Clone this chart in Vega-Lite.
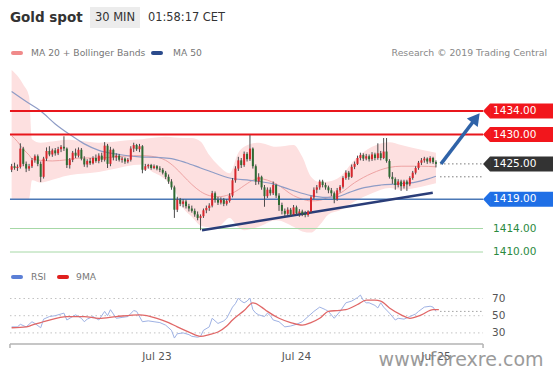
{
"$schema":"https://vega.github.io/schema/vega-lite/v6.json",
"width":553,"height":344,
"autosize":{"type":"none"},
"padding":{"left":0,"right":0,"top":0,"bottom":31},
"background":"white",
"config":{"font":"DejaVu Sans","view":{"stroke":null},"axis":{"grid":false}},
"datasets":{
"candles":[
{"t":"2019-07-21T23:00","o":1424.0,"h":1425.0,"l":1423.6,"c":1424.6},
{"t":"2019-07-21T23:30","o":1424.6,"h":1425.2,"l":1424.0,"c":1424.3},
{"t":"2019-07-22T00:00","o":1424.3,"h":1424.9,"l":1423.8,"c":1424.5},
{"t":"2019-07-22T00:30","o":1424.5,"h":1428.5,"l":1424.2,"c":1427.6},
{"t":"2019-07-22T01:00","o":1427.6,"h":1427.9,"l":1424.6,"c":1425.0},
{"t":"2019-07-22T01:30","o":1425.0,"h":1425.4,"l":1423.6,"c":1424.2},
{"t":"2019-07-22T02:00","o":1424.2,"h":1425.0,"l":1423.8,"c":1424.6},
{"t":"2019-07-22T02:30","o":1424.6,"h":1426.0,"l":1424.3,"c":1425.6},
{"t":"2019-07-22T03:00","o":1425.6,"h":1426.6,"l":1425.2,"c":1426.3},
{"t":"2019-07-22T03:30","o":1426.3,"h":1426.6,"l":1424.6,"c":1425.0},
{"t":"2019-07-22T04:00","o":1425.0,"h":1425.4,"l":1421.9,"c":1422.8},
{"t":"2019-07-22T04:30","o":1422.8,"h":1426.2,"l":1422.5,"c":1425.9},
{"t":"2019-07-22T05:00","o":1425.9,"h":1427.8,"l":1425.5,"c":1427.2},
{"t":"2019-07-22T05:30","o":1427.2,"h":1428.0,"l":1426.3,"c":1426.6},
{"t":"2019-07-22T06:00","o":1426.6,"h":1427.6,"l":1426.2,"c":1427.3},
{"t":"2019-07-22T06:30","o":1427.3,"h":1427.7,"l":1426.4,"c":1426.8},
{"t":"2019-07-22T07:00","o":1426.8,"h":1427.9,"l":1426.5,"c":1427.5},
{"t":"2019-07-22T07:30","o":1427.5,"h":1428.2,"l":1427.0,"c":1427.9},
{"t":"2019-07-22T08:00","o":1427.9,"h":1429.7,"l":1427.2,"c":1427.6},
{"t":"2019-07-22T08:30","o":1427.6,"h":1427.8,"l":1424.3,"c":1424.8},
{"t":"2019-07-22T09:00","o":1424.8,"h":1426.0,"l":1424.2,"c":1425.7},
{"t":"2019-07-22T09:30","o":1425.7,"h":1427.2,"l":1425.3,"c":1426.9},
{"t":"2019-07-22T10:00","o":1426.9,"h":1427.6,"l":1426.0,"c":1426.4},
{"t":"2019-07-22T10:30","o":1426.4,"h":1427.8,"l":1426.1,"c":1427.4},
{"t":"2019-07-22T11:00","o":1427.4,"h":1427.7,"l":1425.6,"c":1425.9},
{"t":"2019-07-22T11:30","o":1425.9,"h":1426.3,"l":1424.5,"c":1424.9},
{"t":"2019-07-22T12:00","o":1424.9,"h":1425.8,"l":1424.4,"c":1425.5},
{"t":"2019-07-22T12:30","o":1425.5,"h":1426.0,"l":1424.8,"c":1425.1},
{"t":"2019-07-22T13:00","o":1425.1,"h":1426.3,"l":1424.9,"c":1426.0},
{"t":"2019-07-22T13:30","o":1426.0,"h":1426.6,"l":1425.2,"c":1425.5},
{"t":"2019-07-22T14:00","o":1425.5,"h":1426.8,"l":1425.1,"c":1426.4},
{"t":"2019-07-22T14:30","o":1426.4,"h":1426.9,"l":1425.3,"c":1425.7},
{"t":"2019-07-22T15:00","o":1425.7,"h":1428.7,"l":1425.4,"c":1428.1},
{"t":"2019-07-22T15:30","o":1428.1,"h":1428.4,"l":1424.3,"c":1425.0},
{"t":"2019-07-22T16:00","o":1425.0,"h":1427.9,"l":1424.6,"c":1427.4},
{"t":"2019-07-22T16:30","o":1427.4,"h":1427.6,"l":1425.6,"c":1426.1},
{"t":"2019-07-22T17:00","o":1426.1,"h":1426.8,"l":1425.5,"c":1426.4},
{"t":"2019-07-22T17:30","o":1426.4,"h":1426.7,"l":1425.4,"c":1425.7},
{"t":"2019-07-22T18:00","o":1425.7,"h":1426.2,"l":1425.2,"c":1425.9},
{"t":"2019-07-22T18:30","o":1425.9,"h":1426.1,"l":1425.0,"c":1425.4},
{"t":"2019-07-22T19:00","o":1425.4,"h":1426.0,"l":1425.1,"c":1425.7},
{"t":"2019-07-22T19:30","o":1425.7,"h":1428.0,"l":1425.4,"c":1427.6},
{"t":"2019-07-22T20:00","o":1427.6,"h":1428.6,"l":1427.0,"c":1428.2},
{"t":"2019-07-22T20:30","o":1428.2,"h":1428.4,"l":1427.2,"c":1427.5},
{"t":"2019-07-22T21:00","o":1427.5,"h":1428.4,"l":1427.0,"c":1428.0},
{"t":"2019-07-22T21:30","o":1428.0,"h":1428.2,"l":1423.4,"c":1424.0},
{"t":"2019-07-22T22:00","o":1424.0,"h":1425.0,"l":1423.8,"c":1424.6},
{"t":"2019-07-22T22:30","o":1424.6,"h":1425.0,"l":1424.2,"c":1424.8},
{"t":"2019-07-22T23:00","o":1424.8,"h":1425.0,"l":1424.0,"c":1424.3},
{"t":"2019-07-22T23:30","o":1424.3,"h":1424.9,"l":1424.1,"c":1424.6},
{"t":"2019-07-23T00:00","o":1424.6,"h":1424.8,"l":1423.9,"c":1424.2},
{"t":"2019-07-23T00:30","o":1424.2,"h":1424.6,"l":1423.6,"c":1424.0},
{"t":"2019-07-23T01:00","o":1424.0,"h":1424.3,"l":1423.2,"c":1423.5},
{"t":"2019-07-23T01:30","o":1423.5,"h":1423.8,"l":1422.4,"c":1422.8},
{"t":"2019-07-23T02:00","o":1422.8,"h":1423.2,"l":1421.6,"c":1422.0},
{"t":"2019-07-23T02:30","o":1422.0,"h":1422.4,"l":1420.6,"c":1421.0},
{"t":"2019-07-23T03:00","o":1421.0,"h":1421.3,"l":1415.8,"c":1417.2},
{"t":"2019-07-23T03:30","o":1417.2,"h":1419.4,"l":1416.8,"c":1418.9},
{"t":"2019-07-23T04:00","o":1418.9,"h":1419.2,"l":1417.8,"c":1418.2},
{"t":"2019-07-23T04:30","o":1418.2,"h":1419.0,"l":1417.6,"c":1418.6},
{"t":"2019-07-23T05:00","o":1418.6,"h":1418.9,"l":1417.4,"c":1417.8},
{"t":"2019-07-23T05:30","o":1417.8,"h":1418.2,"l":1416.9,"c":1417.4},
{"t":"2019-07-23T06:00","o":1417.4,"h":1417.9,"l":1416.7,"c":1417.0},
{"t":"2019-07-23T06:30","o":1417.0,"h":1417.4,"l":1416.0,"c":1416.4},
{"t":"2019-07-23T07:00","o":1416.4,"h":1416.9,"l":1415.4,"c":1415.8},
{"t":"2019-07-23T07:30","o":1415.8,"h":1416.4,"l":1413.7,"c":1416.1},
{"t":"2019-07-23T08:00","o":1416.1,"h":1417.4,"l":1415.8,"c":1417.1},
{"t":"2019-07-23T08:30","o":1417.1,"h":1417.9,"l":1416.6,"c":1417.5},
{"t":"2019-07-23T09:00","o":1417.5,"h":1418.3,"l":1417.0,"c":1417.9},
{"t":"2019-07-23T09:30","o":1417.9,"h":1420.4,"l":1417.6,"c":1420.0},
{"t":"2019-07-23T10:00","o":1420.0,"h":1420.3,"l":1418.4,"c":1418.9},
{"t":"2019-07-23T10:30","o":1418.9,"h":1419.4,"l":1418.0,"c":1418.4},
{"t":"2019-07-23T11:00","o":1418.4,"h":1419.3,"l":1418.1,"c":1418.9},
{"t":"2019-07-23T11:30","o":1418.9,"h":1419.2,"l":1417.8,"c":1418.2},
{"t":"2019-07-23T12:00","o":1418.2,"h":1419.0,"l":1417.9,"c":1418.7},
{"t":"2019-07-23T12:30","o":1418.7,"h":1420.0,"l":1418.4,"c":1419.6},
{"t":"2019-07-23T13:00","o":1419.6,"h":1422.6,"l":1419.3,"c":1422.2},
{"t":"2019-07-23T13:30","o":1422.2,"h":1424.6,"l":1421.8,"c":1424.2},
{"t":"2019-07-23T14:00","o":1424.2,"h":1426.2,"l":1423.8,"c":1425.6},
{"t":"2019-07-23T14:30","o":1425.6,"h":1426.0,"l":1424.3,"c":1424.8},
{"t":"2019-07-23T15:00","o":1424.8,"h":1427.1,"l":1424.5,"c":1426.7},
{"t":"2019-07-23T15:30","o":1426.7,"h":1427.0,"l":1425.4,"c":1425.8},
{"t":"2019-07-23T16:00","o":1425.8,"h":1429.9,"l":1425.5,"c":1427.6},
{"t":"2019-07-23T16:30","o":1427.6,"h":1427.8,"l":1424.2,"c":1424.6},
{"t":"2019-07-23T17:00","o":1424.6,"h":1424.9,"l":1421.4,"c":1422.0},
{"t":"2019-07-23T17:30","o":1422.0,"h":1423.4,"l":1421.5,"c":1422.8},
{"t":"2019-07-23T18:00","o":1422.8,"h":1423.0,"l":1420.6,"c":1421.0},
{"t":"2019-07-23T18:30","o":1421.0,"h":1421.4,"l":1417.7,"c":1419.5},
{"t":"2019-07-23T19:00","o":1419.5,"h":1421.0,"l":1419.2,"c":1420.6},
{"t":"2019-07-23T19:30","o":1420.6,"h":1421.0,"l":1419.6,"c":1420.0},
{"t":"2019-07-23T20:00","o":1420.0,"h":1422.0,"l":1419.7,"c":1421.4},
{"t":"2019-07-23T20:30","o":1421.4,"h":1421.6,"l":1419.2,"c":1419.6},
{"t":"2019-07-23T21:00","o":1419.6,"h":1420.0,"l":1417.0,"c":1418.0},
{"t":"2019-07-23T21:30","o":1418.0,"h":1418.4,"l":1416.4,"c":1417.0},
{"t":"2019-07-23T22:00","o":1417.0,"h":1417.4,"l":1416.0,"c":1416.5},
{"t":"2019-07-23T22:30","o":1416.5,"h":1417.6,"l":1416.2,"c":1417.2},
{"t":"2019-07-23T23:00","o":1417.2,"h":1417.5,"l":1416.0,"c":1416.4},
{"t":"2019-07-23T23:30","o":1416.4,"h":1418.0,"l":1416.2,"c":1417.6},
{"t":"2019-07-24T00:00","o":1417.6,"h":1417.9,"l":1416.3,"c":1416.6},
{"t":"2019-07-24T00:30","o":1416.6,"h":1417.3,"l":1416.0,"c":1416.9},
{"t":"2019-07-24T01:00","o":1416.9,"h":1417.2,"l":1416.1,"c":1416.5},
{"t":"2019-07-24T01:30","o":1416.5,"h":1417.0,"l":1415.9,"c":1416.3},
{"t":"2019-07-24T02:00","o":1416.3,"h":1417.1,"l":1416.0,"c":1416.9},
{"t":"2019-07-24T02:30","o":1416.9,"h":1419.6,"l":1416.6,"c":1419.3},
{"t":"2019-07-24T03:00","o":1419.3,"h":1421.0,"l":1419.0,"c":1420.6},
{"t":"2019-07-24T03:30","o":1420.6,"h":1421.4,"l":1420.0,"c":1421.0},
{"t":"2019-07-24T04:00","o":1421.0,"h":1422.3,"l":1420.6,"c":1422.0},
{"t":"2019-07-24T04:30","o":1422.0,"h":1422.3,"l":1421.0,"c":1421.4},
{"t":"2019-07-24T05:00","o":1421.4,"h":1421.8,"l":1420.6,"c":1421.0},
{"t":"2019-07-24T05:30","o":1421.0,"h":1421.3,"l":1420.0,"c":1420.5},
{"t":"2019-07-24T06:00","o":1420.5,"h":1420.9,"l":1419.5,"c":1420.0},
{"t":"2019-07-24T06:30","o":1420.0,"h":1420.3,"l":1418.3,"c":1419.0},
{"t":"2019-07-24T07:00","o":1419.0,"h":1420.9,"l":1418.7,"c":1420.5},
{"t":"2019-07-24T07:30","o":1420.5,"h":1421.4,"l":1420.1,"c":1421.1},
{"t":"2019-07-24T08:00","o":1421.1,"h":1422.9,"l":1420.8,"c":1422.6},
{"t":"2019-07-24T08:30","o":1422.6,"h":1423.9,"l":1422.3,"c":1423.5},
{"t":"2019-07-24T09:00","o":1423.5,"h":1423.8,"l":1422.3,"c":1422.8},
{"t":"2019-07-24T09:30","o":1422.8,"h":1424.9,"l":1422.6,"c":1424.5},
{"t":"2019-07-24T10:00","o":1424.5,"h":1425.4,"l":1424.1,"c":1425.0},
{"t":"2019-07-24T10:30","o":1425.0,"h":1426.4,"l":1424.8,"c":1426.0},
{"t":"2019-07-24T11:00","o":1426.0,"h":1426.9,"l":1425.6,"c":1426.5},
{"t":"2019-07-24T11:30","o":1426.5,"h":1426.8,"l":1425.5,"c":1425.9},
{"t":"2019-07-24T12:00","o":1425.9,"h":1426.7,"l":1425.6,"c":1426.3},
{"t":"2019-07-24T12:30","o":1426.3,"h":1426.6,"l":1425.4,"c":1425.8},
{"t":"2019-07-24T13:00","o":1425.8,"h":1427.0,"l":1425.5,"c":1426.6},
{"t":"2019-07-24T13:30","o":1426.6,"h":1426.9,"l":1425.6,"c":1426.0},
{"t":"2019-07-24T14:00","o":1426.0,"h":1428.5,"l":1425.7,"c":1426.8},
{"t":"2019-07-24T14:30","o":1426.8,"h":1427.2,"l":1425.6,"c":1426.0},
{"t":"2019-07-24T15:00","o":1426.0,"h":1429.4,"l":1425.8,"c":1427.1},
{"t":"2019-07-24T15:30","o":1427.1,"h":1429.4,"l":1425.2,"c":1425.5},
{"t":"2019-07-24T16:00","o":1425.5,"h":1425.8,"l":1422.5,"c":1422.8},
{"t":"2019-07-24T16:30","o":1422.8,"h":1423.6,"l":1421.6,"c":1422.4},
{"t":"2019-07-24T17:00","o":1422.4,"h":1422.7,"l":1420.6,"c":1421.4},
{"t":"2019-07-24T17:30","o":1421.4,"h":1422.4,"l":1421.0,"c":1422.0},
{"t":"2019-07-24T18:00","o":1422.0,"h":1422.3,"l":1420.4,"c":1421.2},
{"t":"2019-07-24T18:30","o":1421.2,"h":1422.3,"l":1420.8,"c":1422.0},
{"t":"2019-07-24T19:00","o":1422.0,"h":1422.3,"l":1420.4,"c":1421.5},
{"t":"2019-07-24T19:30","o":1421.5,"h":1422.9,"l":1421.2,"c":1422.6},
{"t":"2019-07-24T20:00","o":1422.6,"h":1423.8,"l":1422.3,"c":1423.5},
{"t":"2019-07-24T20:30","o":1423.5,"h":1424.6,"l":1423.2,"c":1424.3},
{"t":"2019-07-24T21:00","o":1424.3,"h":1425.5,"l":1424.0,"c":1425.2},
{"t":"2019-07-24T21:30","o":1425.2,"h":1426.0,"l":1424.8,"c":1425.6},
{"t":"2019-07-24T22:00","o":1425.6,"h":1426.2,"l":1425.2,"c":1425.9},
{"t":"2019-07-24T22:30","o":1425.9,"h":1426.1,"l":1425.0,"c":1425.4},
{"t":"2019-07-24T23:00","o":1425.4,"h":1426.3,"l":1425.1,"c":1426.0},
{"t":"2019-07-24T23:30","o":1426.0,"h":1426.2,"l":1425.0,"c":1425.3},
{"t":"2019-07-25T00:00","o":1425.3,"h":1425.6,"l":1424.4,"c":1425.0}
],
"bands":[
{"t":"2019-07-21T23:00","up":1441.0,"lo":1419.0,"m20":1429.8},
{"t":"2019-07-22T00:00","up":1440.0,"lo":1419.0,"m20":1428.8},
{"t":"2019-07-22T01:00","up":1438.5,"lo":1419.0,"m20":1427.5},
{"t":"2019-07-22T02:00","up":1436.5,"lo":1419.0,"m20":1426.5},
{"t":"2019-07-22T02:30","up":1429.2,"lo":1422.2,"m20":1425.9},
{"t":"2019-07-22T04:00","up":1428.6,"lo":1421.8,"m20":1425.6},
{"t":"2019-07-22T06:00","up":1428.8,"lo":1422.3,"m20":1425.5},
{"t":"2019-07-22T08:30","up":1429.1,"lo":1423.0,"m20":1425.7},
{"t":"2019-07-22T11:00","up":1428.9,"lo":1423.3,"m20":1426.0},
{"t":"2019-07-22T14:00","up":1428.6,"lo":1423.6,"m20":1426.0},
{"t":"2019-07-22T17:00","up":1428.8,"lo":1424.2,"m20":1426.2},
{"t":"2019-07-22T20:00","up":1429.1,"lo":1424.8,"m20":1426.4},
{"t":"2019-07-22T21:30","up":1429.2,"lo":1424.9,"m20":1426.4},
{"t":"2019-07-22T23:00","up":1429.4,"lo":1423.8,"m20":1426.3},
{"t":"2019-07-23T01:30","up":1429.6,"lo":1422.3,"m20":1425.6},
{"t":"2019-07-23T03:00","up":1429.5,"lo":1420.5,"m20":1424.5},
{"t":"2019-07-23T04:30","up":1429.4,"lo":1417.5,"m20":1423.0},
{"t":"2019-07-23T06:00","up":1429.4,"lo":1416.0,"m20":1421.5},
{"t":"2019-07-23T07:30","up":1428.8,"lo":1414.5,"m20":1420.3},
{"t":"2019-07-23T09:00","up":1426.5,"lo":1414.2,"m20":1419.6},
{"t":"2019-07-23T10:30","up":1424.8,"lo":1414.3,"m20":1419.4},
{"t":"2019-07-23T12:30","up":1423.4,"lo":1415.8,"m20":1419.8},
{"t":"2019-07-23T14:00","up":1426.9,"lo":1414.2,"m20":1420.6},
{"t":"2019-07-23T15:00","up":1427.9,"lo":1413.7,"m20":1421.3},
{"t":"2019-07-23T17:30","up":1428.6,"lo":1414.3,"m20":1422.5},
{"t":"2019-07-23T20:30","up":1427.9,"lo":1415.4,"m20":1421.6},
{"t":"2019-07-23T23:30","up":1428.2,"lo":1414.3,"m20":1419.6},
{"t":"2019-07-24T01:00","up":1426.2,"lo":1413.5,"m20":1419.0},
{"t":"2019-07-24T02:30","up":1422.8,"lo":1413.3,"m20":1418.7},
{"t":"2019-07-24T04:00","up":1421.9,"lo":1414.6,"m20":1418.8},
{"t":"2019-07-24T05:30","up":1422.0,"lo":1416.4,"m20":1419.3},
{"t":"2019-07-24T07:30","up":1422.8,"lo":1417.1,"m20":1420.0},
{"t":"2019-07-24T10:00","up":1425.7,"lo":1418.6,"m20":1421.8},
{"t":"2019-07-24T13:00","up":1427.9,"lo":1420.0,"m20":1423.4},
{"t":"2019-07-24T16:00","up":1428.7,"lo":1420.9,"m20":1424.4},
{"t":"2019-07-24T18:00","up":1428.2,"lo":1420.6,"m20":1424.6},
{"t":"2019-07-24T21:30","up":1427.4,"lo":1421.1,"m20":1424.6},
{"t":"2019-07-25T00:00","up":1426.9,"lo":1421.7,"m20":1424.5}
],
"ma50":[
{"t":"2019-07-21T23:00","v":1437.3},{"t":"2019-07-22T01:30","v":1435.6},{"t":"2019-07-22T04:00","v":1434.0},
{"t":"2019-07-22T06:30","v":1431.8},{"t":"2019-07-22T09:00","v":1430.0},{"t":"2019-07-22T11:30","v":1428.4},
{"t":"2019-07-22T14:00","v":1427.3},{"t":"2019-07-22T17:30","v":1426.6},{"t":"2019-07-22T21:00","v":1426.2},
{"t":"2019-07-23T00:00","v":1426.1},{"t":"2019-07-23T02:30","v":1425.9},{"t":"2019-07-23T05:00","v":1425.2},
{"t":"2019-07-23T07:30","v":1424.3},{"t":"2019-07-23T10:00","v":1423.4},{"t":"2019-07-23T12:30","v":1422.6},
{"t":"2019-07-23T16:00","v":1422.2},{"t":"2019-07-23T19:30","v":1421.7},{"t":"2019-07-23T23:00","v":1420.6},
{"t":"2019-07-24T02:30","v":1419.6},{"t":"2019-07-24T05:00","v":1419.3},{"t":"2019-07-24T07:00","v":1419.4},
{"t":"2019-07-24T09:00","v":1420.1},{"t":"2019-07-24T11:00","v":1420.8},{"t":"2019-07-24T14:30","v":1421.4},
{"t":"2019-07-24T17:30","v":1421.6},{"t":"2019-07-24T20:30","v":1421.9},{"t":"2019-07-24T22:30","v":1422.4},
{"t":"2019-07-25T00:00","v":1422.9}
],
"rsi":[
{"t":"2019-07-21T23:00","v":37},{"t":"2019-07-22T00:00","v":37},{"t":"2019-07-22T00:30","v":40},{"t":"2019-07-22T01:30","v":37},
{"t":"2019-07-22T02:30","v":43},{"t":"2019-07-22T03:00","v":41},{"t":"2019-07-22T04:00","v":36},{"t":"2019-07-22T04:30","v":46},
{"t":"2019-07-22T05:30","v":49},{"t":"2019-07-22T06:30","v":50},{"t":"2019-07-22T08:00","v":53},{"t":"2019-07-22T08:30","v":45},
{"t":"2019-07-22T09:30","v":49},{"t":"2019-07-22T10:00","v":51},{"t":"2019-07-22T11:00","v":47},{"t":"2019-07-22T11:30","v":43},
{"t":"2019-07-22T12:00","v":46},{"t":"2019-07-22T13:00","v":49},{"t":"2019-07-22T14:00","v":45},{"t":"2019-07-22T15:00","v":55},
{"t":"2019-07-22T15:30","v":50},{"t":"2019-07-22T16:00","v":57},{"t":"2019-07-22T17:00","v":47},{"t":"2019-07-22T18:00","v":48},
{"t":"2019-07-22T19:00","v":49},{"t":"2019-07-22T20:00","v":56},{"t":"2019-07-22T20:30","v":55},{"t":"2019-07-22T21:30","v":43},
{"t":"2019-07-22T22:30","v":44},{"t":"2019-07-22T23:30","v":43},{"t":"2019-07-23T00:30","v":42},{"t":"2019-07-23T01:30","v":39},
{"t":"2019-07-23T02:30","v":33},{"t":"2019-07-23T03:00","v":24},{"t":"2019-07-23T03:30","v":29},{"t":"2019-07-23T04:30","v":30},
{"t":"2019-07-23T05:30","v":28},{"t":"2019-07-23T06:00","v":26},{"t":"2019-07-23T07:00","v":25},{"t":"2019-07-23T07:30","v":26},
{"t":"2019-07-23T08:00","v":33},{"t":"2019-07-23T09:00","v":37},{"t":"2019-07-23T09:30","v":47},{"t":"2019-07-23T10:30","v":41},
{"t":"2019-07-23T11:30","v":44},{"t":"2019-07-23T12:00","v":47},{"t":"2019-07-23T13:00","v":60},{"t":"2019-07-23T13:30","v":64},
{"t":"2019-07-23T14:00","v":70.5},{"t":"2019-07-23T14:30","v":67},{"t":"2019-07-23T15:00","v":65},{"t":"2019-07-23T15:30","v":67},
{"t":"2019-07-23T16:00","v":70.5},{"t":"2019-07-23T16:30","v":57},{"t":"2019-07-23T17:00","v":53},{"t":"2019-07-23T17:30","v":51},
{"t":"2019-07-23T18:30","v":49},{"t":"2019-07-23T19:00","v":53},{"t":"2019-07-23T19:30","v":50},{"t":"2019-07-23T20:00","v":45},
{"t":"2019-07-23T21:00","v":43},{"t":"2019-07-23T22:00","v":37},{"t":"2019-07-23T23:00","v":38},{"t":"2019-07-24T00:00","v":40},
{"t":"2019-07-24T01:00","v":43},{"t":"2019-07-24T02:00","v":49},{"t":"2019-07-24T02:30","v":52},{"t":"2019-07-24T03:00","v":55},
{"t":"2019-07-24T04:00","v":60},{"t":"2019-07-24T05:00","v":57},{"t":"2019-07-24T05:30","v":55},{"t":"2019-07-24T06:30","v":47},
{"t":"2019-07-24T07:30","v":55},{"t":"2019-07-24T08:30","v":65},{"t":"2019-07-24T09:30","v":67},{"t":"2019-07-24T10:30","v":71},
{"t":"2019-07-24T11:00","v":74},{"t":"2019-07-24T11:30","v":68},{"t":"2019-07-24T12:00","v":65},{"t":"2019-07-24T12:30","v":65},
{"t":"2019-07-24T13:30","v":62},{"t":"2019-07-24T14:00","v":59},{"t":"2019-07-24T14:30","v":65},{"t":"2019-07-24T15:00","v":60},
{"t":"2019-07-24T16:00","v":53},{"t":"2019-07-24T17:00","v":45},{"t":"2019-07-24T17:30","v":47},{"t":"2019-07-24T18:30","v":46},
{"t":"2019-07-24T19:30","v":49},{"t":"2019-07-24T20:30","v":52},{"t":"2019-07-24T21:00","v":55},{"t":"2019-07-24T22:00","v":60},
{"t":"2019-07-24T23:00","v":61},{"t":"2019-07-24T23:30","v":60},{"t":"2019-07-25T00:00","v":55}
],
"rsima":[
{"t":"2019-07-21T23:00","v":36},{"t":"2019-07-22T01:30","v":37},{"t":"2019-07-22T02:30","v":39},{"t":"2019-07-22T05:00","v":44},
{"t":"2019-07-22T08:30","v":49},{"t":"2019-07-22T11:30","v":49},{"t":"2019-07-22T14:00","v":47},{"t":"2019-07-22T17:00","v":49},
{"t":"2019-07-22T21:00","v":51},{"t":"2019-07-23T00:00","v":47},{"t":"2019-07-23T02:00","v":42},{"t":"2019-07-23T03:30","v":37},
{"t":"2019-07-23T05:30","v":31},{"t":"2019-07-23T07:30","v":26},{"t":"2019-07-23T09:00","v":28},{"t":"2019-07-23T10:30","v":31},
{"t":"2019-07-23T12:00","v":38},{"t":"2019-07-23T13:00","v":45},{"t":"2019-07-23T15:00","v":56},{"t":"2019-07-23T16:30","v":65},
{"t":"2019-07-23T18:00","v":60},{"t":"2019-07-23T19:00","v":55},{"t":"2019-07-23T21:00","v":47},{"t":"2019-07-23T23:00","v":42},
{"t":"2019-07-24T01:00","v":39},{"t":"2019-07-24T02:30","v":42},{"t":"2019-07-24T04:00","v":47},{"t":"2019-07-24T05:30","v":55},
{"t":"2019-07-24T07:00","v":56},{"t":"2019-07-24T08:30","v":57},{"t":"2019-07-24T10:30","v":63},{"t":"2019-07-24T12:00","v":68},
{"t":"2019-07-24T13:30","v":68},{"t":"2019-07-24T14:30","v":67},{"t":"2019-07-24T16:00","v":59},{"t":"2019-07-24T18:00","v":51},
{"t":"2019-07-24T19:30","v":47},{"t":"2019-07-24T21:30","v":51},{"t":"2019-07-24T23:30","v":57},{"t":"2019-07-25T00:30","v":57}
],
"levels":[
{"price":1434,"role":"resistance"},{"price":1430,"role":"resistance"},{"price":1425,"role":"last"},
{"price":1419,"role":"pivot"},{"price":1414,"role":"support"},{"price":1410,"role":"support"}
],
"trend":[{"t":"2019-07-23T07:45","p":1413.7},{"t":"2019-07-24T23:27","p":1420.1}],
"target":[{"t":"2019-07-25T00:52","p":1425.0},{"t":"2019-07-25T06:53","p":1432.8}],
"rsilev":[{"level":70},{"level":50},{"level":30}],
"days":[{"d":"2019-07-23T00:00"},{"d":"2019-07-24T00:00"},{"d":"2019-07-25T00:00"}]
},
"layer":[
{"layer":[
{"data":{"name":"bands"},"mark":{"type":"area","color":"#fde0e0","interpolate":"monotone"},
 "encoding":{"x":{"field":"t","type":"temporal","title":null,"axis":null,"scale":{"domain":[{"year":2019,"month":7,"date":21,"hours":21},{"year":2019,"month":7,"date":25,"hours":20,"minutes":8}],"padding":0,"nice":false}},
 "y":{"field":"lo","type":"quantitative","axis":null,"scale":{"domain":[1408,1442],"range":[263.75,64],"zero":false,"nice":false,"padding":0}},"y2":{"field":"up"}}},
{"data":{"name":"bands"},"mark":{"type":"line","color":"#eea3a3","strokeWidth":1,"interpolate":"monotone"},
 "encoding":{"x":{"field":"t","type":"temporal","title":null,"axis":null},"y":{"field":"m20","type":"quantitative","axis":null}}},
{"data":{"name":"ma50"},"mark":{"type":"line","color":"#8e9cc6","strokeWidth":1.2,"interpolate":"monotone"},
 "encoding":{"x":{"field":"t","type":"temporal","title":null,"axis":null},"y":{"field":"v","type":"quantitative","axis":null}}},
{"data":{"name":"levels"},"transform":[{"filter":"datum.role == 'resistance'"}],"mark":{"type":"rule","color":"#e8161c","strokeWidth":2},
 "encoding":{"x":{"datum":{"year":2019,"month":7,"date":21,"hours":22,"minutes":43},"type":"temporal","axis":null},"x2":{"datum":{"year":2019,"month":7,"date":25,"hours":8,"minutes":6}},"y":{"field":"price","type":"quantitative","axis":null}}},
{"data":{"name":"levels"},"transform":[{"filter":"datum.role == 'pivot'"}],"mark":{"type":"rule","color":"#4b78b6","strokeWidth":1.5},
 "encoding":{"x":{"datum":{"year":2019,"month":7,"date":21,"hours":22,"minutes":43},"type":"temporal","axis":null},"x2":{"datum":{"year":2019,"month":7,"date":25,"hours":8,"minutes":6}},"y":{"field":"price","type":"quantitative","axis":null}}},
{"data":{"name":"levels"},"transform":[{"filter":"datum.role == 'support'"}],"mark":{"type":"rule","color":"#a6d8a6","strokeWidth":1},
 "encoding":{"x":{"datum":{"year":2019,"month":7,"date":21,"hours":22,"minutes":43},"type":"temporal","axis":null},"x2":{"datum":{"year":2019,"month":7,"date":25,"hours":8,"minutes":6}},"y":{"field":"price","type":"quantitative","axis":null}}},
{"data":{"name":"levels"},"transform":[{"filter":"datum.role == 'last'"}],"mark":{"type":"rule","color":"#7a7a7a","strokeWidth":1,"strokeDash":[1.5,2.5]},
 "encoding":{"x":{"datum":{"year":2019,"month":7,"date":25,"hours":0,"minutes":42},"type":"temporal","axis":null},"x2":{"datum":{"year":2019,"month":7,"date":25,"hours":8,"minutes":6}},"y":{"field":"price","type":"quantitative","axis":null}}},
{"data":{"values":[{}]},"mark":{"type":"rule","color":"#7a7a7a","strokeWidth":1,"strokeDash":[1.5,2.5]},
 "encoding":{"x":{"datum":{"year":2019,"month":7,"date":25,"hours":0,"minutes":42},"type":"temporal","axis":null},"x2":{"datum":{"year":2019,"month":7,"date":25,"hours":8,"minutes":6}},"y":{"datum":1422.8,"type":"quantitative","axis":null}}},
{"data":{"name":"trend"},"mark":{"type":"line","color":"#2a3d78","strokeWidth":2.5},
 "encoding":{"x":{"field":"t","type":"temporal","title":null,"axis":null},"y":{"field":"p","type":"quantitative","axis":null}}},
{"data":{"name":"candles"},"mark":{"type":"rule","color":"#4a4a4a","strokeWidth":1},
 "encoding":{"x":{"field":"t","type":"temporal","title":null,"axis":null},"y":{"field":"l","type":"quantitative","axis":null},"y2":{"field":"h"}}},
{"data":{"name":"candles"},"mark":{"type":"bar","size":2},
 "encoding":{"x":{"field":"t","type":"temporal","title":null,"axis":null},
  "y":{"field":"o","type":"quantitative","axis":null},"y2":{"field":"c"},
  "color":{"condition":{"test":"datum.c >= datum.o","value":"#d8262c"},"value":"#2e6b33"}}},
{"data":{"name":"target"},"mark":{"type":"line","color":"#2f63a8","strokeWidth":3.5},
 "encoding":{"x":{"field":"t","type":"temporal","title":null,"axis":null},"y":{"field":"p","type":"quantitative","axis":null}}},
{"data":{"values":[{}]},"mark":{"type":"point","shape":"triangle-up","angle":38,"size":190,"filled":true,"color":"#2f63a8","opacity":1},
 "encoding":{"x":{"datum":{"year":2019,"month":7,"date":25,"hours":6,"minutes":53},"type":"temporal","axis":null},"y":{"datum":1432.8,"type":"quantitative","axis":null}}},
{"data":{"name":"levels"},"mark":{"type":"point","shape":"M-0.93,0L0,-1L0,1Z","size":225,"filled":true,"opacity":1,"strokeWidth":0},
 "encoding":{"x":{"datum":{"year":2019,"month":7,"date":25,"hours":9,"minutes":18},"type":"temporal","axis":null},"y":{"field":"price","type":"quantitative","axis":null},
  "fill":{"field":"role","type":"nominal","legend":null,"scale":{"domain":["resistance","last","pivot","support"],"range":["#f2161c","#333333","#1f6fe6","#ffffff"]}}}},
{"data":{"name":"levels"},"mark":{"type":"bar","size":15,"orient":"horizontal"},
 "encoding":{"x":{"datum":{"year":2019,"month":7,"date":25,"hours":9,"minutes":18},"type":"temporal","axis":null},"x2":{"datum":{"year":2019,"month":7,"date":25,"hours":20,"minutes":8}},"y":{"field":"price","type":"quantitative","axis":null},
  "fill":{"field":"role","type":"nominal","legend":null}}},
{"data":{"name":"levels"},"mark":{"type":"text","align":"left","baseline":"middle","fontSize":10.5,"font":"DejaVu Sans"},
 "encoding":{"x":{"datum":{"year":2019,"month":7,"date":25,"hours":9,"minutes":49},"type":"temporal","axis":null},"y":{"field":"price","type":"quantitative","axis":null},
  "text":{"field":"price","type":"quantitative","format":".2f"},
  "color":{"field":"role","type":"nominal","legend":null,"scale":{"domain":["resistance","last","pivot","support"],"range":["#ffffff","#ffffff","#ffffff","#2b8a3e"]}}}},
{"data":{"values":[{}]},"mark":{"type":"text","text":"Gold spot","align":"left","baseline":"middle","fontSize":13.5,"fontWeight":"bold","color":"#333333"},
 "encoding":{"x":{"datum":{"year":2019,"month":7,"date":21,"hours":22,"minutes":43},"type":"temporal","axis":null},"y":{"datum":1449.83,"type":"quantitative","axis":null}}},
{"data":{"values":[{}]},"mark":{"type":"bar","size":21,"orient":"horizontal","color":"#ececec"},
 "encoding":{"x":{"datum":{"year":2019,"month":7,"date":22,"hours":12,"minutes":29},"type":"temporal","axis":null},"x2":{"datum":{"year":2019,"month":7,"date":22,"hours":21,"minutes":5}},"y":{"datum":1449.9,"type":"quantitative","axis":null}}},
{"data":{"values":[{}]},"mark":{"type":"text","text":"30 MIN","align":"center","baseline":"middle","fontSize":11.5,"color":"#333333"},
 "encoding":{"x":{"datum":{"year":2019,"month":7,"date":22,"hours":16,"minutes":47},"type":"temporal","axis":null},"y":{"datum":1449.83,"type":"quantitative","axis":null}}},
{"data":{"values":[{}]},"mark":{"type":"text","text":"01:58:17 CET","align":"left","baseline":"middle","fontSize":11.4,"color":"#333333"},
 "encoding":{"x":{"datum":{"year":2019,"month":7,"date":22,"hours":22,"minutes":28},"type":"temporal","axis":null},"y":{"datum":1449.83,"type":"quantitative","axis":null}}},
{"data":{"values":[{}]},"mark":{"type":"rule","color":"#f08a8a","strokeWidth":4,"strokeCap":"round"},
 "encoding":{"x":{"datum":{"year":2019,"month":7,"date":21,"hours":23,"minutes":14},"type":"temporal","axis":null},"x2":{"datum":{"year":2019,"month":7,"date":22,"hours":0,"minutes":37}},"y":{"datum":1443.87,"type":"quantitative","axis":null}}},
{"data":{"values":[{}]},"mark":{"type":"text","text":"MA 20 + Bollinger Bands","align":"left","baseline":"middle","fontSize":9.2,"color":"#777777"},
 "encoding":{"x":{"datum":{"year":2019,"month":7,"date":22,"hours":2,"minutes":20},"type":"temporal","axis":null},"y":{"datum":1443.87,"type":"quantitative","axis":null}}},
{"data":{"values":[{}]},"mark":{"type":"rule","color":"#2b4b8c","strokeWidth":4,"strokeCap":"round"},
 "encoding":{"x":{"datum":{"year":2019,"month":7,"date":22,"hours":23,"minutes":19},"type":"temporal","axis":null},"x2":{"datum":{"year":2019,"month":7,"date":23,"hours":0,"minutes":42}},"y":{"datum":1443.87,"type":"quantitative","axis":null}}},
{"data":{"values":[{}]},"mark":{"type":"text","text":"MA 50","align":"left","baseline":"middle","fontSize":9.2,"color":"#777777"},
 "encoding":{"x":{"datum":{"year":2019,"month":7,"date":23,"hours":2,"minutes":46},"type":"temporal","axis":null},"y":{"datum":1443.87,"type":"quantitative","axis":null}}},
{"data":{"values":[{}]},"mark":{"type":"text","text":"Research © 2019 Trading Central","align":"right","baseline":"middle","fontSize":9.3,"color":"#888888"},
 "encoding":{"x":{"datum":{"year":2019,"month":7,"date":25,"hours":19,"minutes":6},"type":"temporal","axis":null},"y":{"datum":1443.87,"type":"quantitative","axis":null}}}
]},
{"layer":[
{"data":{"name":"rsilev"},"mark":{"type":"rule","color":"#c2c2c2","strokeWidth":1,"strokeDash":[1.5,3]},
 "encoding":{"x":{"datum":{"year":2019,"month":7,"date":21,"hours":22,"minutes":43},"type":"temporal","axis":null},"x2":{"datum":{"year":2019,"month":7,"date":25,"hours":8,"minutes":6}},
  "y":{"field":"level","type":"quantitative","axis":null,"scale":{"domain":[0,100],"range":[358.7,272.7],"zero":false,"nice":false,"padding":0}}}},
{"data":{"name":"rsi"},"mark":{"type":"line","color":"#9fb2e4","strokeWidth":1},
 "encoding":{"x":{"field":"t","type":"temporal","title":null,"axis":null},"y":{"field":"v","type":"quantitative","axis":null}}},
{"data":{"name":"rsima"},"mark":{"type":"line","color":"#e06767","strokeWidth":1.3,"interpolate":"monotone"},
 "encoding":{"x":{"field":"t","type":"temporal","title":null,"axis":null},"y":{"field":"v","type":"quantitative","axis":null}}},
{"data":{"values":[{}]},"mark":{"type":"rule","color":"#a0a0a0","strokeWidth":1,"strokeDash":[1.5,2.5]},
 "encoding":{"x":{"datum":{"year":2019,"month":7,"date":25,"hours":0,"minutes":42},"type":"temporal","axis":null},"x2":{"datum":{"year":2019,"month":7,"date":25,"hours":8,"minutes":6}},"y":{"datum":55,"type":"quantitative","axis":null}}},
{"data":{"name":"rsilev"},"mark":{"type":"text","align":"left","baseline":"middle","fontSize":10.5,"color":"#555555"},
 "encoding":{"x":{"datum":{"year":2019,"month":7,"date":25,"hours":9,"minutes":38},"type":"temporal","axis":null},"y":{"field":"level","type":"quantitative","axis":null},"text":{"field":"level","type":"quantitative"}}},
{"data":{"values":[{}]},"mark":{"type":"rule","color":"#b3b3b3","strokeWidth":1.5},
 "encoding":{"x":{"datum":{"year":2019,"month":7,"date":21,"hours":22,"minutes":43},"type":"temporal","axis":null},"x2":{"datum":{"year":2019,"month":7,"date":25,"hours":8,"minutes":6}},"y":{"datum":17.1,"type":"quantitative","axis":null}}},
{"data":{"values":[{}]},"mark":{"type":"rule","color":"#b3b3b3","strokeWidth":1.5},
 "encoding":{"x":{"datum":{"year":2019,"month":7,"date":21,"hours":22,"minutes":43},"type":"temporal","axis":null},"y":{"datum":17.1,"type":"quantitative","axis":null},"y2":{"datum":12.5}}},
{"data":{"values":[{}]},"mark":{"type":"rule","color":"#b3b3b3","strokeWidth":1.5},
 "encoding":{"x":{"datum":{"year":2019,"month":7,"date":25,"hours":8,"minutes":6},"type":"temporal","axis":null},"y":{"datum":17.1,"type":"quantitative","axis":null},"y2":{"datum":12.5}}},
{"data":{"name":"days"},"mark":{"type":"text","align":"center","baseline":"middle","fontSize":10.5,"color":"#555555"},
 "encoding":{"x":{"field":"d","type":"temporal","title":null,"axis":null},"y":{"datum":2.3,"type":"quantitative","axis":null},"text":{"field":"d","type":"temporal","format":"%b %d"}}},
{"data":{"values":[{}]},"mark":{"type":"rule","color":"#5b7fd6","strokeWidth":4,"strokeCap":"round"},
 "encoding":{"x":{"datum":{"year":2019,"month":7,"date":21,"hours":23,"minutes":14},"type":"temporal","axis":null},"x2":{"datum":{"year":2019,"month":7,"date":22,"hours":0,"minutes":37}},"y":{"datum":95,"type":"quantitative","axis":null}}},
{"data":{"values":[{}]},"mark":{"type":"text","text":"RSI","align":"left","baseline":"middle","fontSize":9.2,"color":"#777777"},
 "encoding":{"x":{"datum":{"year":2019,"month":7,"date":22,"hours":2,"minutes":20},"type":"temporal","axis":null},"y":{"datum":95,"type":"quantitative","axis":null}}},
{"data":{"values":[{}]},"mark":{"type":"rule","color":"#e0201e","strokeWidth":4,"strokeCap":"round"},
 "encoding":{"x":{"datum":{"year":2019,"month":7,"date":22,"hours":7,"minutes":9},"type":"temporal","axis":null},"x2":{"datum":{"year":2019,"month":7,"date":22,"hours":8,"minutes":32}},"y":{"datum":95,"type":"quantitative","axis":null}}},
{"data":{"values":[{}]},"mark":{"type":"text","text":"9MA","align":"left","baseline":"middle","fontSize":9.2,"color":"#777777"},
 "encoding":{"x":{"datum":{"year":2019,"month":7,"date":22,"hours":10,"minutes":5},"type":"temporal","axis":null},"y":{"datum":95,"type":"quantitative","axis":null}}},
{"data":{"values":[{}]},"mark":{"type":"text","text":"www.forexre.com","align":"center","baseline":"middle","fontSize":19,"color":"#8a8a8a","opacity":0.85},
 "encoding":{"x":{"datum":{"year":2019,"month":7,"date":25,"hours":4,"minutes":19},"type":"temporal","axis":null},"y":{"datum":-1.5,"type":"quantitative","axis":null}}}
]}
],
"resolve":{"scale":{"y":"independent"}}
}
